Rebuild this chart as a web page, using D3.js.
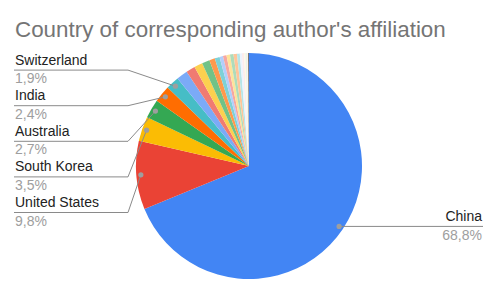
<!DOCTYPE html>
<html>
<head>
<meta charset="utf-8">
<script src="https://cdn.jsdelivr.net/npm/d3@7"></script>
<style>
  body { margin: 0; background: #fff; }
  svg { display: block; font-family: "Liberation Sans", Arial, sans-serif; }
</style>
</head>
<body>
<svg id="chart"></svg>
<script>
// data (percent of papers)
var countries = ["China", "United States", "South Korea", "Australia", "India", "Switzerland",
                 "", "", "", "", "", "", "", "", "", "", "", "", "", "", "", "", "", ""];
var shares = [68.8, 9.8, 3.5, 2.7, 2.4, 1.9,
              1.6, 1.3, 1.2, 1.1, 0.8, 0.7, 0.5, 0.5, 0.5, 0.5, 0.5, 0.4,
              0.3, 0.3, 0.2, 0.2, 0.2, 0.1];
var title = "Country of corresponding author's affiliation";

var palette = ["#4285f4", "#ea4335", "#fbbc04", "#34a853", "#ff6d01", "#46bdc6",
               "#7baaf7", "#f07b72", "#fcd04f", "#71c287", "#ff994d", "#7ed1d7",
               "#b3cefb", "#f7a7a1", "#fde49b", "#aedcba", "#ffc599", "#b5e5e8",
               "#ecf3fe", "#fdeceb", "#fff8e6", "#e6f4ea", "#fff0e6", "#3c3c3c"];

var width = 498, height = 295;
var cx = 249, cy = 166, radius = 113;

var svg = d3.select("#chart").attr("width", width).attr("height", height);

svg.append("text")
   .attr("x", 15).attr("y", 37)
   .attr("fill", "#757575")
   .style("font-size", "22.4px")
   .text(title);

var rows = countries.map(function(c, i){ return { name: c, value: shares[i], color: palette[i] }; });

var pie = d3.pie().sort(null).value(function(d){ return d.value; });
var arcs = pie(rows);

var arc = d3.arc().innerRadius(0).outerRadius(radius);
var dotArc = d3.arc().innerRadius(radius - 4.5).outerRadius(radius - 4.5);

var g = svg.append("g").attr("transform", "translate(" + cx + "," + cy + ")");
g.selectAll("path")
 .data(arcs)
 .enter()
 .append("path")
 .attr("d", arc)
 .attr("fill", function(d){ return d.data.color; });

var fmt = function(v){ return d3.format(".1f")(v).replace(".", ",") + "%"; };

// labelled slices
var labelled = arcs.filter(function(d){ return d.data.name !== ""; });
var right = labelled.filter(function(d){ return (d.startAngle + d.endAngle) / 2 < Math.PI; });
var left = labelled.filter(function(d){ return (d.startAngle + d.endAngle) / 2 >= Math.PI; });

var lab = svg.append("g");

right.forEach(function(d){
    var c = dotArc.centroid(d);
    var px = cx + c[0], py = cy + c[1];
    lab.append("path")
       .attr("d", "M" + px + "," + py + "H483")
       .attr("stroke", "#8a8a8a").attr("fill", "none");
    lab.append("circle").attr("cx", px).attr("cy", py).attr("r", 2.6).attr("fill", "#9e9e9e");
    lab.append("text").attr("x", 482).attr("y", py - 5).attr("text-anchor", "end")
       .attr("fill", "#222").style("font-size", "14px").text(d.data.name);
    lab.append("text").attr("x", 482).attr("y", py + 14).attr("text-anchor", "end")
       .attr("fill", "#9e9e9e").style("font-size", "14px").text(fmt(d.data.value));
});

// left side: stacked from the bottom up, in slice order
left.forEach(function(d, k){
    var c = dotArc.centroid(d);
    var px = cx + c[0], py = cy + c[1];
    var ly = 212.5 - k * 35.6;
    lab.append("path")
       .attr("d", "M14," + ly + "H128L" + px + "," + py)
       .attr("stroke", "#8a8a8a").attr("fill", "none");
    lab.append("circle").attr("cx", px).attr("cy", py).attr("r", 2.6).attr("fill", "#9e9e9e");
    lab.append("text").attr("x", 15).attr("y", ly - 5.5)
       .attr("fill", "#222").style("font-size", "14px").text(d.data.name);
    lab.append("text").attr("x", 15).attr("y", ly + 13)
       .attr("fill", "#9e9e9e").style("font-size", "14px").text(fmt(d.data.value));
});
</script>
</body>
</html>
